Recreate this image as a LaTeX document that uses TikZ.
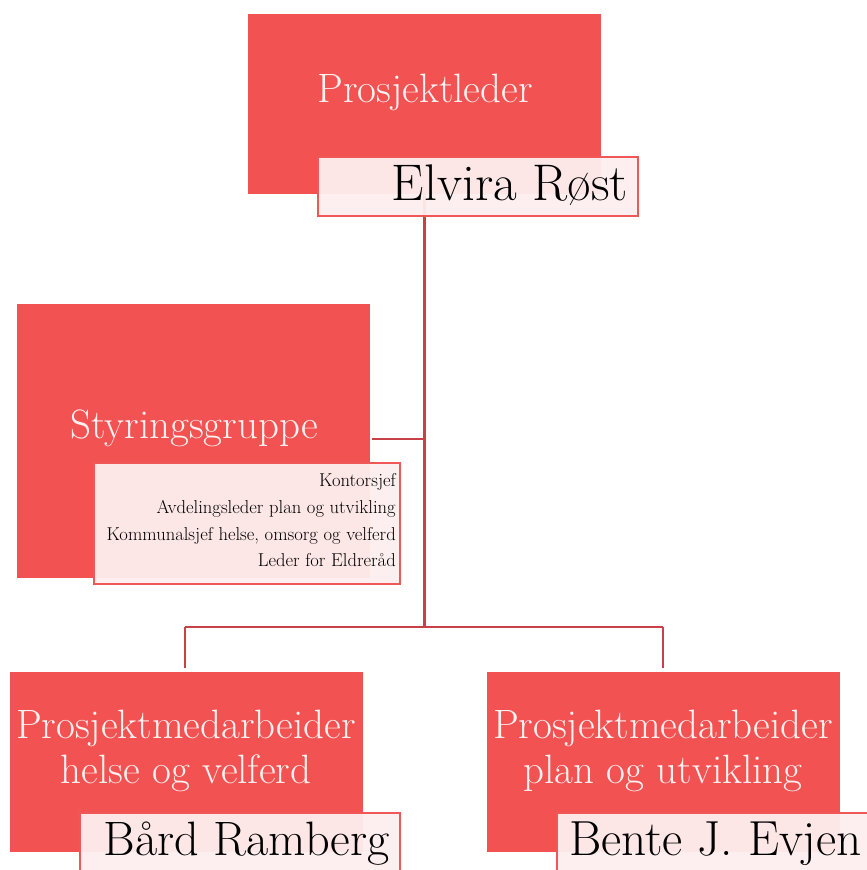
\documentclass[tikz,border=0pt]{standalone}
\usepackage{fontspec}
\usepackage{tikz}
\usetikzlibrary{positioning}
\definecolor{boxred}{RGB}{242,82,82}
\definecolor{namepink}{RGB}{253,238,238}
\definecolor{nameborder}{RGB}{240,88,88}
\definecolor{connred}{RGB}{200,64,72}
\definecolor{headwhite}{RGB}{253,242,242}

\begin{document}
\begin{tikzpicture}[x=1pt, y=-1pt,
	every node/.style={rectangle, inner sep=0pt},
	redbox/.style={fill=boxred, minimum width=353pt, minimum height=180pt},
	namebox/.style={draw=nameborder, line width=2pt, fill=namepink, fill opacity=0.95, minimum height=59pt},
	headtxt/.style={text=headwhite, font=\fontsize{41}{45}\selectfont, align=center},
	nametxt/.style={text=black, font=\fontsize{#1}{55}\selectfont, anchor=base east},
	membtxt/.style={text=black, font=\fontsize{18.6}{26.7}\selectfont, align=right, anchor=base east},
	conn/.style={draw=connred, line width=2.7pt}]
	\useasboundingbox (0,0) rectangle (867,870);
	% connectors
	\coordinate (styrend) at (372,439);
	\coordinate (hub) at (424.5,627);
	\coordinate (lft) at (185,627);
	\coordinate (rgt) at (663,627);
	\draw[conn] (424.5,194) -- (hub);
	\draw[conn] (styrend) -- (styrend -| hub);
	\draw[conn] (lft) -- (rgt);
	\draw[conn] (lft) -- ++(0,41);
	\draw[conn] (rgt) -- ++(0,41);
	% leder
	\node (leder) at (424.5,104) [redbox] {};
	\node (ledertxt) at (425,102) [headtxt, anchor=base] {Prosjektleder};
	\node (elvira) at (478,186.5) [namebox, minimum width=320pt] {};
	\node (elviratxt) at (628,200) [nametxt=51.5] {Elvira Røst};
	% styringsgruppe
	\node (styr) at (193.5,441) [redbox, minimum height=274pt] {};
	\node (styrtxt) at (194,438) [headtxt, anchor=base] {Styringsgruppe};
	\node (medl) at (247,523.5) [namebox, minimum width=306pt, minimum height=121pt] {};
	\node (medltxt) at (396,566.7) [membtxt] {Kontorsjef\\Avdelingsleder plan og utvikling\\Kommunalsjef helse, omsorg og velferd\\Leder for Eldreråd};
	% medarbeidere
	\node (helse) at (186,762) [redbox] {};
	\node (helsetxt) at (186,783) [headtxt, anchor=base] {Prosjektmedarbeider\\helse og velferd};
	\node (baard) at (240,846.5) [namebox, minimum width=320pt, minimum height=67pt] {};
	\node (baardtxt) at (390,855) [nametxt=48.3] {Bård Ramberg};
	\node (plan) at (663,762) [redbox] {};
	\node (plantxt) at (663,783) [headtxt, anchor=base] {Prosjektmedarbeider\\plan og utvikling};
	\node (bente) at (718.5,846.5) [namebox, minimum width=323pt, minimum height=67pt] {};
	\node (bentetxt) at (862,855) [nametxt=49.3] {Bente J. Evjen};
\end{tikzpicture}
\end{document}
